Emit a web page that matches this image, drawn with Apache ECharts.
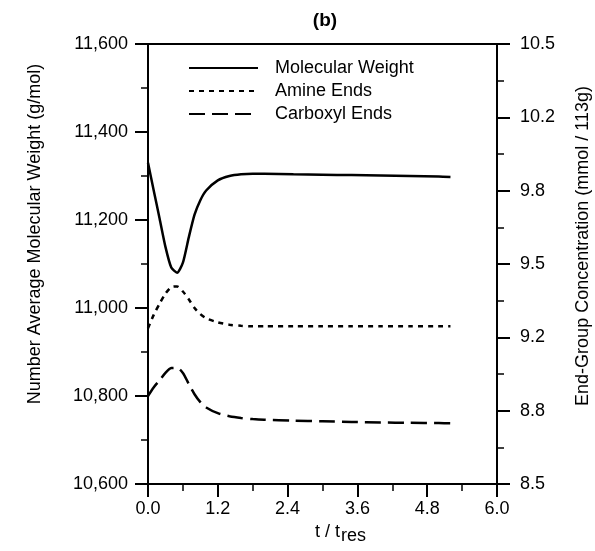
<!DOCTYPE html>
<html>
<head>
<meta charset="utf-8">
<script src="https://cdn.jsdelivr.net/npm/echarts@6/dist/echarts.min.js"></script>
<style>html,body{margin:0;padding:0;background:#fff}#c{width:595px;height:551px}</style>
</head>
<body>
<div id="c"></div>
<script>
// ---- data ----
var tValues = [0, 0.1, 0.2, 0.3, 0.4, 0.5, 0.6, 0.7, 0.8, 0.9, 1.0, 1.2, 1.4, 1.6, 1.8, 2.0, 2.5, 3.0, 3.5, 4.0, 4.5, 5.0, 5.2];
var molecularWeight = [11330, 11266, 11203, 11139, 11092, 11080, 11103, 11160, 11212, 11245, 11267, 11290, 11300, 11304, 11305, 11305, 11304, 11303, 11302, 11301, 11300, 11299, 11298];
var amineEnds = [9.208, 9.27, 9.32, 9.365, 9.395, 9.398, 9.375, 9.34, 9.30, 9.272, 9.253, 9.235, 9.224, 9.219, 9.217, 9.217, 9.217, 9.217, 9.217, 9.217, 9.217, 9.217, 9.217];
var carboxylEnds = [8.90, 8.94, 8.972, 9.005, 9.027, 9.028, 9.005, 8.955, 8.908, 8.872, 8.848, 8.822, 8.808, 8.800, 8.795, 8.792, 8.788, 8.785, 8.782, 8.780, 8.778, 8.777, 8.776];
var seriesNames = ['Molecular Weight', 'Amine Ends', 'Carboxyl Ends'];
var xTickLabels = ['0.0', '1.2', '2.4', '3.6', '4.8', '6.0'];
var leftTickLabels = ['10,600', '10,800', '11,000', '11,200', '11,400', '11,600'];
var rightTickLabels = ['8.5', '8.8', '9.2', '9.5', '9.8', '10.2', '10.5'];

function pairs(xs, ys) { return xs.map(function (x, i) { return [x, ys[i]]; }); }

var FONT = '"Liberation Sans", Arial, Helvetica, sans-serif';
var chart = echarts.init(document.getElementById('c'), null, { renderer: 'canvas' });

var axisCommon = {
  axisLine: { show: true, lineStyle: { color: '#000', width: 2 } },
  axisTick: { show: true, inside: false, length: 13, lineStyle: { color: '#000', width: 2 } },
  minorTick: { show: true, splitNumber: 2, length: 7, lineStyle: { color: '#000', width: 1.5 } },
  splitLine: { show: false },
  axisLabel: { color: '#000', fontSize: 18, fontFamily: FONT },
  nameTextStyle: { color: '#000', fontSize: 18, fontFamily: FONT }
};

var option = {
  backgroundColor: '#fff',
  animation: false,
  title: {
    text: '(b)', left: 320, top: 6, textAlign: 'center',
    textStyle: { fontSize: 19, fontWeight: 'bold', fontFamily: FONT, color: '#000' }
  },
  grid: {
    left: 148, right: 98, top: 44, bottom: 67, containLabel: false, outerBoundsMode: 'none',
    show: true, borderColor: '#000', borderWidth: 2, backgroundColor: 'transparent'
  },
  legend: {
    orient: 'vertical', left: 183, top: 53, itemWidth: 69, itemHeight: 14, itemGap: 3,
    data: seriesNames,
    itemStyle: { color: 'rgba(0,0,0,0)', borderColor: 'rgba(0,0,0,0)', borderWidth: 0, opacity: 0 },
    lineStyle: { width: 2 },
    textStyle: { fontSize: 18, fontFamily: FONT, color: '#000', lineHeight: 20, padding: [0, 0, 0, 12] }
  },
  xAxis: Object.assign({}, axisCommon, {
    type: 'value', min: 0, max: 6, interval: 1.2,
    axisLabel: Object.assign({}, axisCommon.axisLabel, {
      margin: 16,
      formatter: function (v) { return xTickLabels[Math.round(v / 1.2)]; }
    }),
    name: 't / t{s|res}', nameLocation: 'middle', nameGap: 26,
    nameTextStyle: {
      color: '#000', fontSize: 18, fontFamily: FONT, padding: [0, 0, 0, 36],
      rich: {
        s: { fontSize: 18, fontFamily: FONT, color: '#000', padding: [9, 0, 0, 1] }
      }
    }
  }),
  yAxis: [
    Object.assign({}, axisCommon, {
      type: 'value', position: 'left', min: 10600, max: 11600, interval: 200,
      axisLabel: Object.assign({}, axisCommon.axisLabel, {
        margin: 20,
        formatter: function (v) { return leftTickLabels[Math.round((v - 10600) / 200)]; }
      }),
      name: 'Number Average Molecular Weight (g/mol)', nameLocation: 'middle', nameGap: 104, nameRotate: 90,
      nameTextStyle: { color: '#000', fontSize: 18, fontFamily: FONT, padding: [0, 0, 0, 60] }
    }),
    Object.assign({}, axisCommon, {
      type: 'value', position: 'right', min: 8.5, max: 10.5, interval: 1 / 3,
      axisLabel: Object.assign({}, axisCommon.axisLabel, {
        margin: 23,
        formatter: function (v) { return rightTickLabels[Math.round((v - 8.5) * 3)]; }
      }),
      name: 'End-Group Concentration (mmol / 113g)', nameLocation: 'middle', nameGap: 77, nameRotate: 90,
      nameTextStyle: { color: '#000', fontSize: 18, fontFamily: FONT, padding: [0, 0, 0, 36] }
    })
  ],
  series: [
    {
      name: seriesNames[0], type: 'line', yAxisIndex: 0, symbol: 'none', smooth: 0.2,
      data: pairs(tValues, molecularWeight),
      lineStyle: { color: '#000', width: 2.5, type: 'solid' }, itemStyle: { color: '#000' }
    },
    {
      name: seriesNames[1], type: 'line', yAxisIndex: 1, symbol: 'none', smooth: 0.25,
      data: pairs(tValues, amineEnds),
      lineStyle: { color: '#000', width: 2.5, type: [5, 5] }, itemStyle: { color: '#000' }
    },
    {
      name: seriesNames[2], type: 'line', yAxisIndex: 1, symbol: 'none', smooth: 0.25,
      data: pairs(tValues, carboxylEnds),
      lineStyle: { color: '#000', width: 2.5, type: [16, 7] }, itemStyle: { color: '#000' }
    }
  ]
};
chart.setOption(option);
</script>
</body>
</html>
